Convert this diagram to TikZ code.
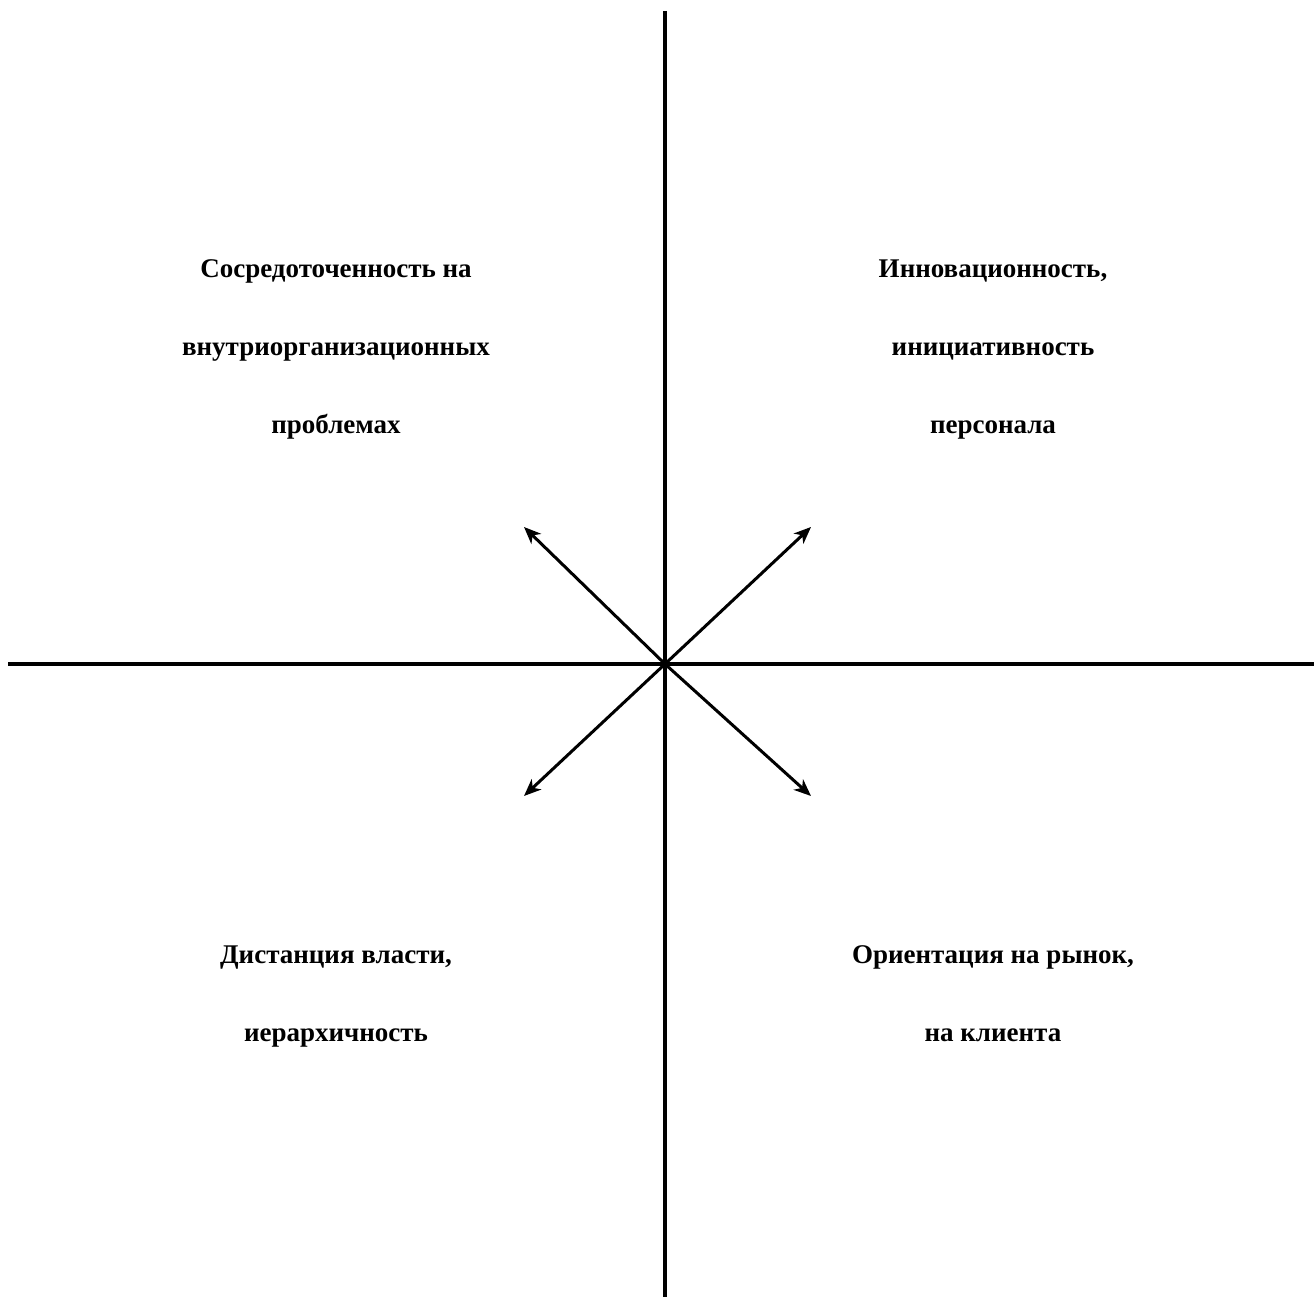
\documentclass[tikz,border=0pt]{standalone}
\usepackage{fontspec}
\setmainfont{Liberation Serif}
\usetikzlibrary{arrows.meta}
\begin{document}
\begin{tikzpicture}[x=1pt,y=-1pt,
  axis/.style={line width=3.4pt},
  ray/.style={line width=3pt,-{Stealth[length=17pt,width=14pt,inset=5pt]}},
  label/.style={align=center,font=\fontsize{27}{78}\selectfont\bfseries,anchor=base,inner sep=0pt}]
\useasboundingbox (0,0) rectangle (1314,1297);
\coordinate (o) at (665,664);
\coordinate (vt) at (665,11);
\coordinate (vb) at (665,1297);
\coordinate (hl) at (8,664);
\coordinate (hr) at (1314,664);
\coordinate (tl) at (524,527);
\coordinate (tr) at (811,527);
\coordinate (bl) at (524,796);
\coordinate (br) at (811,796);
\draw[axis] (vt) -- (vb);
\draw[axis] (hl) -- (hr);
\draw[ray] (o) -- (tl);
\draw[ray] (o) -- (tr);
\draw[ray] (o) -- (bl);
\draw[ray] (o) -- (br);
\node[label] (ql) at (336,433) {Сосредоточенность на\\внутриорганизационных\\проблемах};
\node[label] (qr) at (993,433) {Инновационность,\\инициативность\\персонала};
\node[label] (qbl) at (336,1041) {Дистанция власти,\\иерархичность};
\node[label] (qbr) at (993,1041) {Ориентация на рынок,\\на клиента};
\end{tikzpicture}
\end{document}
